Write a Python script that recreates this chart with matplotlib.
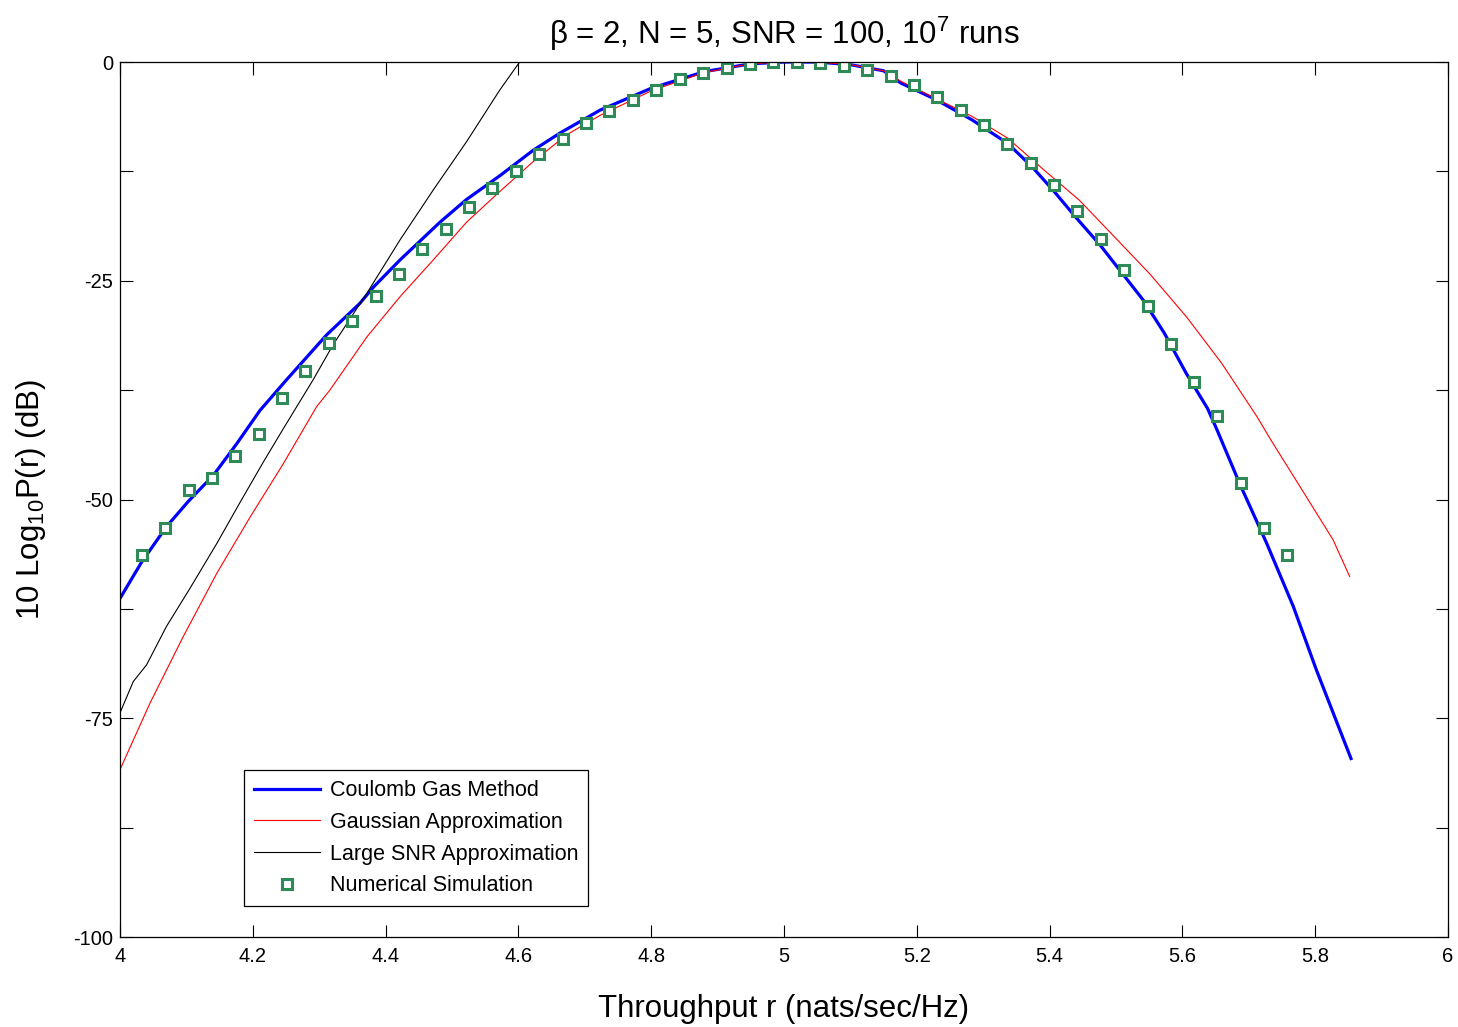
import matplotlib
matplotlib.use("Agg")
import matplotlib.pyplot as plt

plt.rcParams['font.family'] = ['Liberation Sans', 'DejaVu Sans']
plt.rcParams['mathtext.default'] = 'regular'

# Coulomb gas method (blue)
cg_x = [4.000, 4.033, 4.070, 4.103, 4.141, 4.176, 4.211, 4.251, 4.271, 4.311,
        4.361, 4.382, 4.422, 4.482, 4.522, 4.572, 4.622, 4.663, 4.723, 4.800,
        4.880, 4.950, 5.000, 5.050, 5.100, 5.150, 5.176, 5.229, 5.283, 5.337,
        5.374, 5.407, 5.439, 5.476, 5.509, 5.541, 5.573, 5.606, 5.638, 5.652,
        5.687, 5.727, 5.767, 5.802, 5.837, 5.854]
cg_y = [-61.3, -57.1, -53.1, -50.2, -47.2, -43.6, -39.8, -36.3, -34.6, -31.2,
        -27.6, -25.7, -22.6, -18.3, -15.7, -13.0, -10.1, -8.1, -5.5, -3.0,
        -1.1, -0.2, 0.0, 0.0, -0.3, -1.0, -2.4, -4.3, -6.6, -9.3,
        -12.0, -14.8, -17.7, -20.9, -24.1, -27.2, -31.0, -35.6, -39.6, -42.0,
        -48.3, -55.0, -62.2, -69.5, -76.3, -79.6]

# Gaussian approximation (red)
ga_x = [4.001, 4.045, 4.095, 4.146, 4.196, 4.246, 4.296, 4.316, 4.372, 4.422,
        4.472, 4.522, 4.572, 4.622, 4.673, 4.723, 4.800, 4.880, 4.950, 5.000,
        5.050, 5.100, 5.150, 5.176, 5.230, 5.283, 5.337, 5.391, 5.445, 5.498,
        5.552, 5.606, 5.659, 5.713, 5.735, 5.777, 5.827, 5.852]
ga_y = [-80.7, -73.3, -65.7, -58.4, -52.0, -45.9, -39.4, -37.5, -31.4, -26.8,
        -22.6, -18.3, -14.8, -11.4, -8.3, -6.1, -3.3, -1.2, -0.2, 0.0,
        0.0, -0.3, -1.0, -2.2, -4.2, -6.2, -8.7, -12.3, -15.8, -20.0,
        -24.3, -29.1, -34.4, -40.6, -43.4, -48.5, -54.6, -58.8]

# Large SNR approximation (black)
ls_x = [4.001, 4.020, 4.040, 4.070, 4.105, 4.146, 4.181, 4.216, 4.246, 4.291,
        4.321, 4.372, 4.422, 4.472, 4.522, 4.572, 4.600, 4.607]
ls_y = [-74.2, -70.8, -68.9, -64.5, -60.2, -55.0, -50.3, -45.7, -41.9, -36.3,
        -32.3, -26.4, -20.3, -14.6, -9.1, -3.2, -0.2, 0.4]

# Numerical simulation (green squares)
sim_x = [4.033, 4.068, 4.104, 4.139, 4.173, 4.209, 4.244, 4.279, 4.315, 4.349,
         4.386, 4.420, 4.455, 4.491, 4.526, 4.560, 4.596, 4.631, 4.667, 4.702,
         4.736, 4.773, 4.807, 4.843, 4.878, 4.914, 4.949, 4.983, 5.020, 5.054,
         5.090, 5.125, 5.161, 5.196, 5.230, 5.267, 5.301, 5.336, 5.372, 5.407,
         5.441, 5.477, 5.512, 5.548, 5.583, 5.618, 5.652, 5.688, 5.723, 5.758]
sim_y = [-56.3, -53.3, -48.9, -47.5, -45.0, -42.5, -38.4, -35.3, -32.1, -29.6,
         -26.7, -24.2, -21.4, -19.1, -16.6, -14.4, -12.5, -10.5, -8.8, -7.0,
         -5.6, -4.3, -3.2, -1.9, -1.3, -0.7, -0.2, 0.0, 0.0, -0.1,
         -0.4, -0.9, -1.6, -2.6, -4.0, -5.5, -7.2, -9.4, -11.5, -14.1,
         -17.0, -20.2, -23.8, -27.9, -32.2, -36.6, -40.5, -48.1, -53.3, -56.3]

x_ticks = [4, 4.2, 4.4, 4.6, 4.8, 5, 5.2, 5.4, 5.6, 5.8, 6]
x_tick_labels = ['4', '4.2', '4.4', '4.6', '4.8', '5', '5.2', '5.4', '5.6', '5.8', '6']
y_ticks = [-100, -87.5, -75, -62.5, -50, -37.5, -25, -12.5, 0]
y_tick_labels = ['-100', '', '-75', '', '-50', '', '-25', '', '0']

fig = plt.figure(figsize=(14.58, 10.27), dpi=100)
ax = fig.add_axes([0.0823, 0.0876, 0.9108, 0.852])

ax.plot(cg_x, cg_y, color='#0000ff', lw=2.3, label='Coulomb Gas Method')
ax.plot(ga_x, ga_y, color='#ff0000', lw=0.8, label='Gaussian Approximation')
ax.plot(ls_x, ls_y, color='black', lw=0.8, label='Large SNR Approximation')
ax.plot(sim_x, sim_y, ls='none', marker='s', ms=7.5, mew=2.2, mfc='white',
        mec='#2e8b57', label='Numerical Simulation')

ax.set_xlim(4, 6)
ax.set_ylim(-100, 0)
ax.set_xticks(x_ticks)
ax.set_xticklabels(x_tick_labels)
ax.set_yticks(y_ticks)
ax.set_yticklabels(y_tick_labels)
ax.tick_params(direction='in', length=9, width=0.8, top=True, right=True,
               labelsize=14.5)
ax.tick_params(axis='x', pad=7)
ax.tick_params(axis='y', pad=5)
for s in ax.spines.values():
    s.set_linewidth(0.9)

ax.set_title(r'β = 2, N = 5, SNR = 100, $10^7$ runs', fontsize=22.5, pad=13)
ax.set_xlabel('Throughput r (nats/sec/Hz)', fontsize=22.5, labelpad=20)
ax.set_ylabel(r'10 Log$_{10}$P(r) (dB)', fontsize=22.5, labelpad=18)

leg = ax.legend(loc='lower left', bbox_to_anchor=(0.0934, 0.0354), borderaxespad=0,
                fontsize=15.5, fancybox=False, edgecolor='black', framealpha=1,
                handlelength=3.1, labelspacing=0.5, borderpad=0.45,
                handletextpad=0.45)
leg.get_frame().set_linewidth(0.9)

fig.savefig('out.png', dpi=100)
